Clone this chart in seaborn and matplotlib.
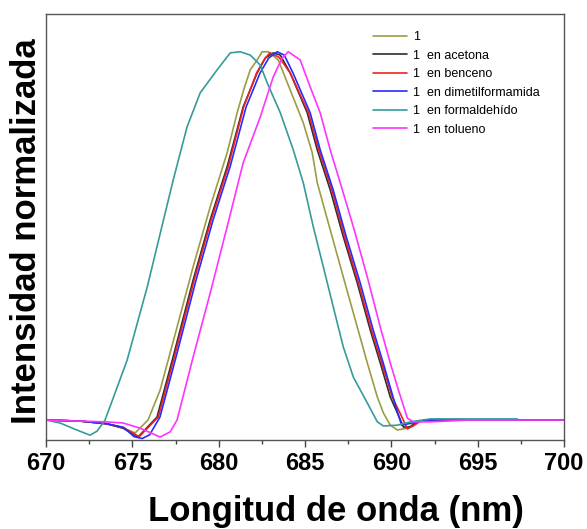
import matplotlib
matplotlib.use("Agg")
import pandas as pd
import matplotlib.pyplot as plt
import seaborn as sns
from matplotlib.ticker import MultipleLocator

# wavelength (nm) / normalised intensity
wl_1 = [670.0, 672.0, 673.5, 674.5, 675.16, 675.91, 676.61, 677.59, 678.52, 679.51, 680.49,
        681.07, 681.5, 681.83, 682.23, 682.52, 682.87, 683.45, 684.14, 684.9, 685.42, 685.71,
        686.46, 687.22, 688.03, 688.61, 689.19, 689.54, 689.94, 690.35, 690.93, 691.51, 692.5, 700.0]
int_1 = [0.0, -0.003, -0.01, -0.022, -0.035, 0.0, 0.081, 0.251, 0.414, 0.576, 0.722,
         0.83, 0.9, 0.946, 0.973, 0.995, 0.995, 0.973, 0.892, 0.803, 0.722, 0.641,
         0.514, 0.386, 0.251, 0.154, 0.062, 0.019, -0.014, -0.027, -0.022, -0.003, 0.0, 0.0]

wl_acetona = [670.0, 672.0, 673.5, 674.46, 675.33, 676.43, 677.36, 678.52, 679.51, 680.49, 681.42,
              682.23, 682.7, 683.16, 683.57, 684.14, 685.13, 685.71, 686.46, 687.22, 688.03,
              688.78, 689.36, 689.94, 690.35, 690.7, 691.1, 691.51, 692.5, 700.0]
int_acetona = [0.0, -0.003, -0.01, -0.022, -0.046, 0.008, 0.17, 0.378, 0.541, 0.684, 0.846,
               0.938, 0.978, 0.992, 0.986, 0.938, 0.83, 0.73, 0.622, 0.495, 0.37,
               0.243, 0.154, 0.062, 0.019, -0.019, -0.019, -0.003, 0.0, 0.0]

wl_benceno = [670.0, 672.0, 673.5, 674.46, 675.4, 676.5, 677.43, 678.58, 679.57, 680.55, 681.45,
              682.2, 682.7, 682.97, 683.5, 684.14, 685.2, 685.8, 686.55, 687.3, 688.1,
              688.85, 689.45, 690.05, 690.5, 690.93, 691.3, 691.7, 692.5, 700.0]
int_benceno = [0.0, -0.003, -0.01, -0.02, -0.045, 0.008, 0.17, 0.378, 0.541, 0.684, 0.846,
               0.938, 0.978, 0.992, 0.98, 0.938, 0.83, 0.73, 0.622, 0.495, 0.37,
               0.243, 0.154, 0.062, 0.019, -0.024, -0.015, -0.003, 0.0, 0.0]

wl_dmf = [670.0, 672.0, 673.5, 674.5, 675.1, 675.57, 676.0, 676.6, 677.53, 678.69, 679.68, 680.66,
          681.59, 682.4, 682.9, 683.39, 683.8, 684.3, 685.3, 685.88, 686.63, 687.39, 688.2,
          688.95, 689.53, 690.1, 690.4, 690.6, 691.2, 692.0, 700.0]
int_dmf = [0.0, -0.003, -0.01, -0.02, -0.045, -0.05, -0.04, 0.008, 0.17, 0.378, 0.541, 0.684,
           0.846, 0.938, 0.978, 0.995, 0.986, 0.938, 0.83, 0.73, 0.622, 0.495, 0.37,
           0.243, 0.154, 0.062, 0.015, -0.014, -0.008, 0.0, 0.0]

wl_formaldehido = [670.0, 670.81, 671.68, 672.55, 672.96, 673.42, 674.0, 674.7, 675.86, 676.62,
                   677.37, 678.17, 678.93, 679.91, 680.67, 681.25, 681.83, 682.41, 682.81, 683.57,
                   684.32, 684.9, 685.48, 686.06, 686.64, 687.22, 687.8, 688.61, 689.19, 689.54,
                   690.35, 691.1, 692.26, 697.3]
int_formaldehido = [0.0, -0.008, -0.025, -0.041, -0.03, 0.0, 0.073, 0.162, 0.359, 0.505,
                    0.649, 0.792, 0.884, 0.946, 0.992, 0.995, 0.986, 0.959, 0.911, 0.83,
                    0.73, 0.641, 0.522, 0.414, 0.305, 0.197, 0.116, 0.046, -0.005, -0.016,
                    -0.014, -0.005, 0.003, 0.003]

wl_tolueno = [670.0, 672.0, 673.5, 674.46, 675.45, 676.61, 677.19, 677.59, 678.52, 679.51, 680.49,
              681.42, 682.41, 683.16, 683.68, 684.03, 684.72, 685.3, 685.88, 686.46, 687.04,
              687.8, 688.61, 689.36, 689.94, 690.41, 690.93, 691.28, 692.26, 694.58, 700.0]
int_tolueno = [0.0, -0.003, -0.005, -0.008, -0.022, -0.046, -0.032, 0.0, 0.17, 0.343, 0.522,
               0.695, 0.819, 0.927, 0.978, 0.995, 0.973, 0.9, 0.83, 0.73, 0.641,
               0.522, 0.386, 0.251, 0.154, 0.081, 0.005, -0.005, -0.005, 0.0, 0.0]

labels = ["1", "1  en acetona", "1  en benceno", "1  en dimetilformamida",
          "1  en formaldehído", "1  en tolueno"]
colors = ["#9c9c45", "#2e2e2e", "#ee2222", "#2a2aff", "#359b9b", "#ff33ff"]

series = [(wl_1, int_1), (wl_acetona, int_acetona), (wl_benceno, int_benceno),
          (wl_dmf, int_dmf), (wl_formaldehido, int_formaldehido), (wl_tolueno, int_tolueno)]

sns.set_style("white")
plt.rcParams['font.family'] = ['Liberation Sans', 'DejaVu Sans']
plt.rcParams['text.color'] = 'black'
plt.rcParams['axes.labelcolor'] = 'black'
plt.rcParams['xtick.color'] = 'black'

fig = plt.figure(figsize=(5.87, 5.29), dpi=100)
ax = fig.add_axes([46 / 587, 89 / 529, 518 / 587, 426 / 529])

for (x, y), lab, col in zip(series, labels, colors):
    df = pd.DataFrame({'wl': x, 'I': y})
    sns.lineplot(x='wl', y='I', data=df, ax=ax, color=col, label=lab,
                 linewidth=1.2, sort=False, estimator=None)

ax.set_xlim(670, 700)
ax.set_ylim(-0.054, 1.097)
ax.xaxis.set_major_locator(MultipleLocator(5))
ax.xaxis.set_minor_locator(MultipleLocator(2.5))
ax.set_yticks([])
ax.tick_params(axis='x', which='major', direction='out', length=5, width=1,
               color='#444444', labelcolor='black', labelsize=17, pad=4, bottom=True)
ax.tick_params(axis='x', which='minor', direction='out', length=3, width=1,
               color='#444444', bottom=True)
for lbl in ax.get_xticklabels():
    lbl.set_fontweight('bold')

for s in ax.spines.values():
    s.set_color('#555555')
    s.set_linewidth(1.0)

ax.set_xlabel('Longitud de onda (nm)', fontsize=25, fontweight='bold', color='black')
ax.set_ylabel('Intensidad normalizada', fontsize=25, fontweight='bold', color='black')
ax.xaxis.set_label_coords(0.56, -0.13)
ax.yaxis.set_label_coords(-0.006, 0.49)

leg = ax.legend(loc='upper left', bbox_to_anchor=(0.631, 0.96), frameon=False, fontsize=9,
                handlelength=2.7, handletextpad=0.5, labelspacing=0.52,
                borderpad=0, borderaxespad=0)
for t in leg.get_texts():
    t.set_color('black')

plt.savefig('out.png', dpi=100)
